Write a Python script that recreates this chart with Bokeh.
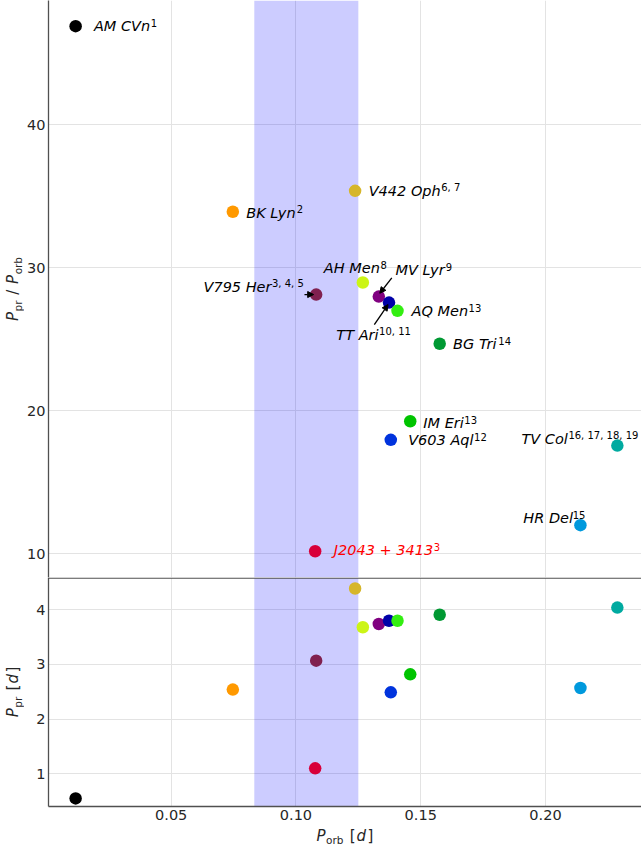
import numpy as np
from bokeh.plotting import figure
from bokeh.layouts import column, row
from bokeh.models import (Range1d, Arrow, NormalHead, BoxAnnotation, ColumnDataSource,
                          FixedTicker, NumeralTickFormatter)
from bokeh.core.properties import value
from bokeh.embed import file_html
from bokeh.resources import INLINE

# ---------------- data ----------------
names = ["AM CVn", "BK Lyn", "V795 Her", "J2043 + 3413", "V442 Oph", "AH Men", "MV Lyr",
         "TT Ari", "AQ Men", "BG Tri", "IM Eri", "V603 Aql", "TV Col", "HR Del"]
refs = ["1", "2", "3, 4, 5", "3", "6, 7", "8", "9", "10, 11", "13", "14", "13", "12",
        "16, 17, 18, 19", "15"]
porb = [0.0117, 0.0747, 0.1081, 0.1077, 0.1237, 0.1268, 0.1332, 0.1373, 0.1407, 0.1576,
        0.1458, 0.1380, 0.2288, 0.2140]
ratio = [46.9, 33.92, 28.13, 10.18, 35.38, 28.97, 27.99, 27.57, 26.99, 24.69, 19.27, 17.97,
         17.57, 12.0]
ppr = [0.55, 2.54, 3.07, 1.10, 4.39, 3.68, 3.74, 3.80, 3.80, 3.91, 2.82, 2.49, 4.04, 2.57]
colors = ["#000000", "#ff9900", "#80204f", "#d8003a", "#d6b62a", "#ccf516", "#800080",
          "#0000a8", "#33ee11", "#009933", "#00c400", "#0033dd", "#00aaa0", "#0099dd"]
name_colors = ["black", "black", "black", "red"] + ["black"] * 10

gap = (0.0833, 0.125)          # period gap, days
x_ticks = [0.05, 0.10, 0.15, 0.20]
top_ticks = [10, 20, 30, 40]
bottom_ticks = [1, 2, 3, 4]

# ---------------- label layout (pixels, baseline offsets from the point) ----------------
lab_anchor = ["l", "l", "r", "l", "l", "l", "l", "l", "l", "l", "l", "l", "r", "r"]
lab_dx = [18.3, 13.4, -12.4, 18.6, 13.6, -39, 16.7, -52.7, 14, 13.4, 13, 17.4, 21, 5]
lab_dy = [5, 6, -2.3, 4.3, 5.4, -9.7, -21, 37.3, 5.4, 5.7, 6.6, 5.4, -1.7, -1.7]

# DejaVu Sans advance widths (units / 2048)
W = {' ': 651, 'A': 1401, 'B': 1405, 'C': 1430, 'D': 1577, 'E': 1294, 'G': 1604, 'H': 1540,
     'I': 604, 'J': 604, 'K': 1343, 'L': 1141, 'M': 1767, 'O': 1612, 'P': 1235, 'Q': 1612,
     'T': 1251, 'V': 1401, 'a': 1255, 'e': 1260, 'h': 1298, 'i': 569, 'l': 569, 'n': 1298,
     'p': 1300, 'q': 1300, 'r': 842, 'y': 1212, 'o': 1253, 'b': 1300, 'd': 1300, '+': 1716,
     ',': 651, '/': 690, '[': 800, ']': 800}


def tw(s, size):
    return sum(W.get(c, 1303) for c in s) / 2048.0 * size


MAIN = 14.5
SUP = 10.0
AXL = 15.0
AXS = 10.5
CAPC = 0.36        # cap-centre height above baseline, in em
SPACE = tw(" ", AXL)

# ---------------- geometry ----------------
LEFT = 24          # width of the axis-label strip
BORDER = 24        # tick-label border
FW = 593
H_TOP, H_BOT = 577, 229
X_AX = 20
H_XL = 846 - H_TOP - H_BOT - X_AX
x_rng = Range1d(0.000828, 0.000828 + FW / 2495.3)
y_top = Range1d(8.343, 8.343 + H_TOP / 14.3)
y_bot = Range1d(0.402, 0.402 + H_BOT / 54.67)
sx = FW / (x_rng.end - x_rng.start)
sy_top = H_TOP / (y_top.end - y_top.start)
sy_bot = H_BOT / (y_bot.end - y_bot.start)

FONT = "DejaVu Sans"
AXC = "#505050"
GRIDC = "#e3e3e3"
TICKC = "#262626"


def style(p):
    p.outline_line_color = None
    p.background_fill_color = "white"
    p.border_fill_color = "white"
    p.xgrid.grid_line_color = GRIDC
    p.ygrid.grid_line_color = GRIDC
    p.xgrid.ticker = FixedTicker(ticks=x_ticks)
    for ax in p.xaxis + p.yaxis:
        ax.axis_line_color = AXC
        ax.axis_line_width = 1.3
        ax.major_tick_out = 0
        ax.major_tick_in = 0
        ax.minor_tick_out = 0
        ax.minor_tick_in = 0
        ax.major_label_text_font = FONT
        ax.major_label_text_font_size = "14.5px"
        ax.major_label_text_color = TICKC
    p.yaxis.major_label_standoff = 3
    p.xaxis.major_label_standoff = 3


# ---------------- top panel ----------------
p1 = figure(frame_width=FW, frame_height=H_TOP, x_range=x_rng, y_range=y_top,
            output_backend="svg", toolbar_location=None,
            min_border_left=BORDER, min_border_right=0, min_border_top=0, min_border_bottom=0)
style(p1)
p1.xaxis.visible = False
p1.yaxis.ticker = FixedTicker(ticks=top_ticks)
p1.ygrid.ticker = FixedTicker(ticks=top_ticks)
p1.add_layout(BoxAnnotation(left=gap[0], right=gap[1], fill_color="blue", fill_alpha=0.2,
                            line_color=None, level="underlay"))

src = ColumnDataSource(dict(porb=porb, ratio=ratio, ppr=ppr, color=colors, name=names,
                            ref=refs, ncol=name_colors))
p1.scatter("porb", "ratio", size=12.5, color="color", line_color=None, source=src)

main_dx, sup_dx, main_dy, sup_dy = [], [], [], []
for n, r, a, dx, dy in zip(names, refs, lab_anchor, lab_dx, lab_dy):
    wm = tw(n, MAIN)
    ws = tw(r, SUP)
    left = dx if a == "l" else dx - (wm + 0.5 + ws)
    main_dx.append(left)
    sup_dx.append(left + wm + 0.5)
    main_dy.append(dy - CAPC * MAIN)
    sup_dy.append(dy - 4.7 - CAPC * SUP)
src.data["mdx"] = main_dx
src.data["sdx"] = sup_dx
src.data["mdy"] = main_dy
src.data["sdy"] = sup_dy

p1.text("porb", "ratio", text="name", x_offset="mdx", y_offset="mdy", source=src,
        text_font=value(FONT), text_font_style="italic", text_font_size=f"{MAIN}px",
        text_color="ncol", text_align="left", text_baseline="middle")
p1.text("porb", "ratio", text="ref", x_offset="sdx", y_offset="sdy", source=src,
        text_font=value(FONT), text_font_style="normal", text_font_size=f"{SUP}px",
        text_color="ncol", text_align="left", text_baseline="middle")

arrow_idx = [2, 6, 7]
arrow_start = [(-11.7, 0.0), (13.0, -18.7), (-14.7, 22.0)]
arrow_end = [(-2.5, 0.0), (1.0, -3.3), (-1.0, 2.0)]
for i, (s0, s1), (e0, e1) in zip(arrow_idx, arrow_start, arrow_end):
    p1.add_layout(Arrow(end=NormalHead(size=6, fill_color="black", line_color="black"),
                        x_start=porb[i] + s0 / sx, y_start=ratio[i] - s1 / sy_top,
                        x_end=porb[i] + e0 / sx, y_end=ratio[i] - e1 / sy_top,
                        line_color="black", line_width=1.3))

# ---------------- bottom panel ----------------
p2 = figure(frame_width=FW, frame_height=H_BOT, x_range=x_rng, y_range=y_bot,
            output_backend="svg", toolbar_location=None,
            min_border_left=BORDER, min_border_right=0, min_border_top=0,
            min_border_bottom=X_AX)
style(p2)
p2.xaxis.ticker = FixedTicker(ticks=x_ticks)
p2.xaxis.formatter = NumeralTickFormatter(format="0.00")
p2.yaxis.ticker = FixedTicker(ticks=bottom_ticks)
p2.ygrid.ticker = FixedTicker(ticks=bottom_ticks)
p2.add_layout(BoxAnnotation(left=gap[0], right=gap[1], fill_color="blue", fill_alpha=0.2,
                            line_color=None, level="underlay"))
# separator between the two panels
p2.add_layout(BoxAnnotation(top=y_bot.end, bottom=y_bot.end - 1.2 / sy_bot,
                            fill_color=AXC, fill_alpha=1.0, line_color=None))
p2.scatter("porb", "ppr", size=12.5, color="color", line_color=None, source=src)


# ---------------- axis labels (pieces: text, size, style, subscript, gap after) ----------------
def pieces_width(pieces):
    return sum(tw(t, sz) + g for t, sz, st, sub, g in pieces)


ytop_pieces = [("P", AXL, "italic", False, 0.5), ("pr", AXS, "normal", True, SPACE + 1),
               ("/", AXL, "normal", False, SPACE + 1), ("P", AXL, "italic", False, 0.5),
               ("orb", AXS, "normal", True, 0)]
ybot_pieces = [("P", AXL, "italic", False, 0.5), ("pr", AXS, "normal", True, SPACE + 1.5),
               ("[", AXL, "normal", False, 1), ("d", AXL, "italic", False, 1.5),
               ("]", AXL, "normal", False, 0)]
x_pieces = [("P", AXL, "italic", False, 0.5), ("orb", AXS, "normal", True, SPACE + 1.5),
            ("[", AXL, "normal", False, 1), ("d", AXL, "italic", False, 1.5),
            ("]", AXL, "normal", False, 0)]

pl = figure(frame_width=LEFT, frame_height=846, x_range=Range1d(0, LEFT),
            y_range=Range1d(846, 0), output_backend="svg", toolbar_location=None,
            x_axis_type=None, y_axis_type=None, min_border_left=0, min_border_right=0,
            min_border_top=0, min_border_bottom=0)
pl.outline_line_color = None
pl.border_fill_color = "white"


def vertical_label(pieces, baseline_x, centre_y):
    total = pieces_width(pieces)
    cum = 0.0
    for t, sz, st, sub, g in pieces:
        bx = baseline_x + (3.0 if sub else 0)
        pl.text([bx - CAPC * sz], [centre_y + total / 2 - cum], text=[t], angle=np.pi / 2,
                text_font=value(FONT), text_font_size=f"{sz}px", text_font_style=st,
                text_color=TICKC, text_align="left", text_baseline="middle")
        cum += tw(t, sz) + g


vertical_label(ytop_pieces, 18.0, H_TOP / 2)
vertical_label(ybot_pieces, 18.0, H_TOP + H_BOT / 2)

px = figure(frame_width=FW, frame_height=H_XL, x_range=x_rng, y_range=Range1d(H_XL, 0),
            output_backend="svg", toolbar_location=None, x_axis_type=None, y_axis_type=None,
            min_border_left=BORDER, min_border_right=0, min_border_top=0, min_border_bottom=0)
px.outline_line_color = None
px.border_fill_color = "white"
cx_data = (x_rng.start + x_rng.end) / 2
total_x = pieces_width(x_pieces)
base_y = 9.0 + CAPC * AXL
cum = 0.0
for t, sz, st, sub, g in x_pieces:
    by = base_y + (3.3 if sub else 0)
    px.text([cx_data], [by - CAPC * sz], text=[t], x_offset=-total_x / 2 + cum,
            text_font=value(FONT), text_font_size=f"{sz}px", text_font_style=st,
            text_color=TICKC, text_align="left", text_baseline="middle")
    cum += tw(t, sz) + g

layout = row(pl, column(p1, p2, px, spacing=0), spacing=0)
open("out.html", "w").write(file_html(layout, INLINE))
